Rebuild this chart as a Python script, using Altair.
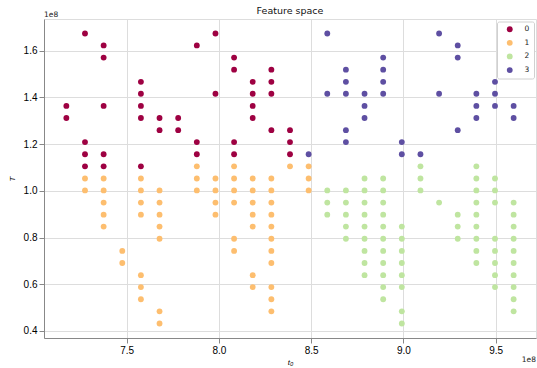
import altair as alt
import pandas as pd

# Cluster members as (t0, T) pairs, both in units of 1e8
cluster_0 = [
    (7.173, 1.364), (7.173, 1.312),
    (7.274, 1.674), (7.274, 1.209), (7.274, 1.157), (7.274, 1.105),
    (7.375, 1.623), (7.375, 1.571), (7.375, 1.364), (7.375, 1.157), (7.375, 1.105),
    (7.577, 1.467), (7.577, 1.416), (7.577, 1.364), (7.577, 1.312), (7.577, 1.105),
    (7.678, 1.312), (7.678, 1.260),
    (7.779, 1.312), (7.779, 1.260),
    (7.880, 1.623), (7.880, 1.209), (7.880, 1.157),
    (7.981, 1.674), (7.981, 1.416),
    (8.082, 1.571), (8.082, 1.519), (8.082, 1.209), (8.082, 1.157),
    (8.183, 1.467), (8.183, 1.416), (8.183, 1.364), (8.183, 1.312),
    (8.284, 1.519), (8.284, 1.467), (8.284, 1.416), (8.284, 1.260),
    (8.385, 1.260), (8.385, 1.209), (8.385, 1.157),
]

cluster_1 = [
    (7.274, 1.053), (7.274, 1.002),
    (7.375, 1.053), (7.375, 1.002), (7.375, 0.950), (7.375, 0.898), (7.375, 0.847),
    (7.476, 0.743), (7.476, 0.691),
    (7.577, 1.053), (7.577, 1.002), (7.577, 0.950), (7.577, 0.898),
    (7.577, 0.639), (7.577, 0.588), (7.577, 0.536),
    (7.678, 1.002), (7.678, 0.950), (7.678, 0.898), (7.678, 0.847), (7.678, 0.795),
    (7.678, 0.484), (7.678, 0.432),
    (7.880, 1.105), (7.880, 1.053), (7.880, 1.002),
    (7.981, 1.053), (7.981, 1.002), (7.981, 0.950), (7.981, 0.898),
    (8.082, 1.105), (8.082, 1.053), (8.082, 1.002), (8.082, 0.950),
    (8.082, 0.795), (8.082, 0.743),
    (8.183, 1.053), (8.183, 1.002), (8.183, 0.950), (8.183, 0.898), (8.183, 0.847),
    (8.183, 0.639), (8.183, 0.588),
    (8.284, 1.053), (8.284, 1.002), (8.284, 0.950), (8.284, 0.898), (8.284, 0.847),
    (8.284, 0.795), (8.284, 0.743), (8.284, 0.691), (8.284, 0.588), (8.284, 0.536),
    (8.284, 0.484),
    (8.385, 1.105),
    (8.486, 1.105), (8.486, 1.053), (8.486, 1.002),
]

cluster_2 = [
    (8.587, 1.002), (8.587, 0.950), (8.587, 0.898),
    (8.688, 1.002), (8.688, 0.950), (8.688, 0.898), (8.688, 0.847), (8.688, 0.795),
    (8.789, 1.053), (8.789, 1.002), (8.789, 0.950), (8.789, 0.898), (8.789, 0.847),
    (8.789, 0.795), (8.789, 0.743), (8.789, 0.691), (8.789, 0.639),
    (8.890, 1.053), (8.890, 1.002), (8.890, 0.950), (8.890, 0.898), (8.890, 0.847),
    (8.890, 0.795), (8.890, 0.743), (8.890, 0.691), (8.890, 0.639), (8.890, 0.588),
    (8.890, 0.536),
    (8.991, 0.847), (8.991, 0.795), (8.991, 0.743), (8.991, 0.691), (8.991, 0.639),
    (8.991, 0.588), (8.991, 0.484), (8.991, 0.432),
    (9.092, 1.105), (9.092, 1.053), (9.092, 1.002),
    (9.193, 0.950),
    (9.294, 0.898), (9.294, 0.847), (9.294, 0.795),
    (9.395, 1.105), (9.395, 1.053), (9.395, 1.002), (9.395, 0.950), (9.395, 0.898),
    (9.395, 0.847), (9.395, 0.795), (9.395, 0.743), (9.395, 0.691),
    (9.496, 1.053), (9.496, 1.002), (9.496, 0.950), (9.496, 0.795), (9.496, 0.743),
    (9.496, 0.691), (9.496, 0.639), (9.496, 0.588),
    (9.597, 0.950), (9.597, 0.898), (9.597, 0.847), (9.597, 0.795), (9.597, 0.743),
    (9.597, 0.691), (9.597, 0.639), (9.597, 0.588), (9.597, 0.536), (9.597, 0.484),
]

cluster_3 = [
    (8.486, 1.157),
    (8.587, 1.674), (8.587, 1.416),
    (8.688, 1.519), (8.688, 1.467), (8.688, 1.416), (8.688, 1.260), (8.688, 1.209),
    (8.789, 1.416), (8.789, 1.364), (8.789, 1.312),
    (8.890, 1.571), (8.890, 1.519), (8.890, 1.467), (8.890, 1.416),
    (8.991, 1.209), (8.991, 1.157),
    (9.092, 1.157),
    (9.193, 1.674), (9.193, 1.416),
    (9.294, 1.623), (9.294, 1.571), (9.294, 1.260),
    (9.395, 1.416), (9.395, 1.364), (9.395, 1.312),
    (9.496, 1.467), (9.496, 1.416), (9.496, 1.364),
    (9.597, 1.364), (9.597, 1.312),
]

cluster_labels = ["0", "1", "2", "3"]
cluster_colors = ["#9e0142", "#fdbe6f", "#bfe5a0", "#5e4fa2"]  # Spectral
x_ticks = [7.5, 8.0, 8.5, 9.0, 9.5]
y_ticks = [0.4, 0.6, 0.8, 1.0, 1.2, 1.4, 1.6]
SCALE = 1e8
TITLE = "Feature space"

rows = []
for label, pts in zip(cluster_labels, [cluster_0, cluster_1, cluster_2, cluster_3]):
    for t0, T in pts:
        rows.append({"t0": t0 * SCALE, "T": T * SCALE, "cluster": label})
df = pd.DataFrame(rows)

FONT = "DejaVu Sans"
W, H = 492, 319

# 5% margins around the data range on both axes
x_min, x_max = df["t0"].min(), df["t0"].max()
y_min, y_max = df["T"].min(), df["T"].max()
x_pad = 0.05 * (x_max - x_min)
y_pad = 0.05 * (y_max - y_min)

label_expr = "format(datum.value / 1e8, '.1f')"

points = alt.Chart(df).mark_circle(size=34, opacity=1).encode(
    x=alt.X(
        "t0:Q",
        scale=alt.Scale(domain=[x_min - x_pad, x_max + x_pad], nice=False, zero=False),
        axis=alt.Axis(
            values=[v * SCALE for v in x_ticks],
            labelExpr=label_expr,
            title="t₀",
            titleFontStyle="italic",
            titleFontWeight="normal",
            titleFontSize=8,
            titlePadding=3,
        ),
    ),
    y=alt.Y(
        "T:Q",
        scale=alt.Scale(domain=[y_min - y_pad, y_max + y_pad], nice=False, zero=False),
        axis=alt.Axis(
            values=[v * SCALE for v in y_ticks],
            labelExpr=label_expr,
            title="T",
            titleFontStyle="italic",
            titleFontWeight="normal",
            titleFontSize=8,
            titlePadding=7,
        ),
    ),
    color=alt.Color(
        "cluster:N",
        scale=alt.Scale(domain=cluster_labels, range=cluster_colors),
        legend=alt.Legend(
            title=None,
            orient="none",
            legendX=453,
            legendY=2.5,
            padding=4,
            symbolType="circle",
            symbolSize=34,
            symbolStrokeWidth=0,
            symbolOffset=5,
            labelOffset=11,
            labelFontSize=7.5,
            labelFont=FONT,
            labelColor="#222",
            rowPadding=4.6,
            fillColor="white",
            strokeColor="#d0d0d0",
            cornerRadius=2,
        ),
    ),
)

# Chart heading, centred over the plot area
heading = alt.Chart(pd.DataFrame({"txt": [TITLE]})).mark_text(
    align="center", baseline="alphabetic", fontSize=9.5, font=FONT, color="#111"
).encode(x=alt.value(W / 2), y=alt.value(-5), text="txt:N")

# Axis offset labels ("1e8") at the top-left and bottom-right corners
offset_top = alt.Chart(pd.DataFrame({"txt": ["1e8"]})).mark_text(
    align="left", baseline="alphabetic", fontSize=7.5, font=FONT, color="#222"
).encode(x=alt.value(0), y=alt.value(-2.5), text="txt:N")

offset_bottom = alt.Chart(pd.DataFrame({"txt": ["1e8"]})).mark_text(
    align="right", baseline="alphabetic", fontSize=7.5, font=FONT, color="#222"
).encode(x=alt.value(W), y=alt.value(H + 23.5), text="txt:N")

chart = (
    alt.layer(points, heading, offset_top, offset_bottom)
    .properties(
        width=W,
        height=H,
        autosize=alt.AutoSizeParams(type="none"),
        padding={"left": 44, "top": 19, "right": 1, "bottom": 30},
    )
    .configure_view(stroke="#444", strokeWidth=0.8)
    .configure_axis(
        domain=False,
        grid=True,
        gridColor="#c4c4c4",
        gridWidth=0.8,
        ticks=True,
        tickSize=2.6,
        tickColor="#333",
        tickWidth=0.7,
        labelFont=FONT,
        labelFontSize=7.5,
        labelColor="#222",
        labelPadding=2.5,
        titleFont=FONT,
        titleColor="#222",
    )
    .configure(background="white")
)

chart.save("out.html", embed_options={"renderer": "svg", "actions": False})
